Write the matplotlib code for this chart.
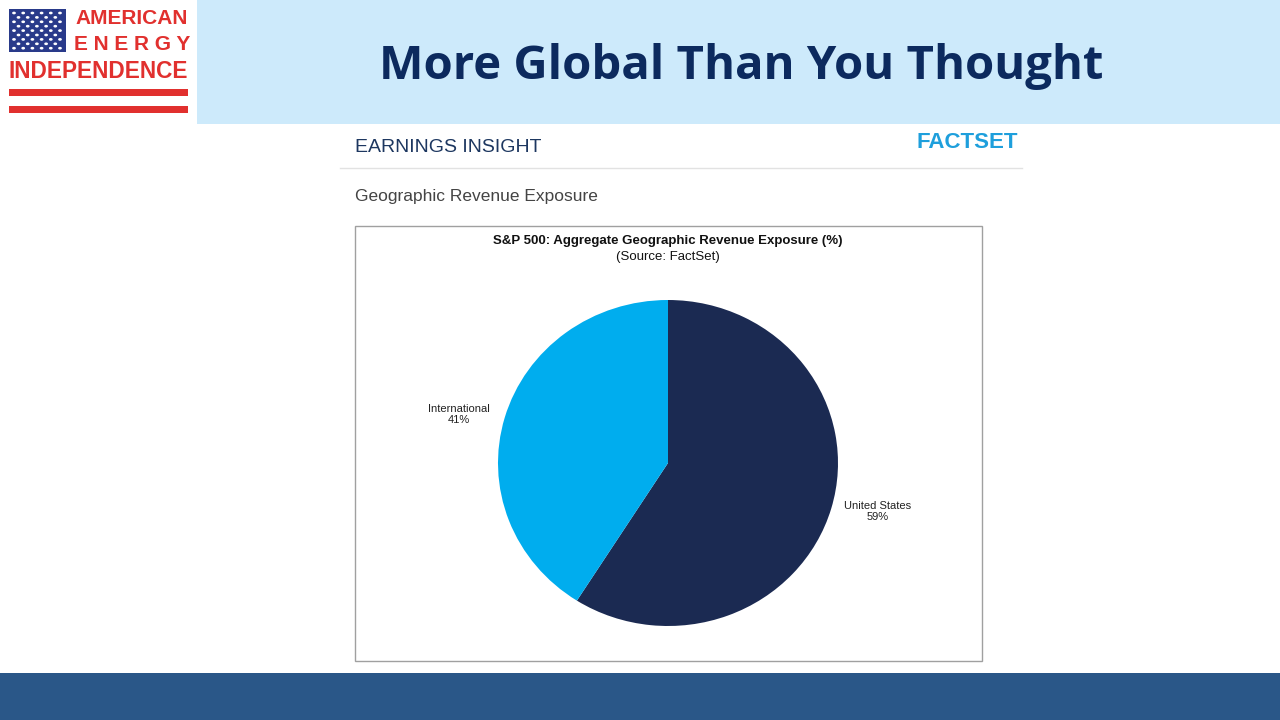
import matplotlib.pyplot as plt
from matplotlib.patches import Rectangle

W, H = 1280, 720

# data
regions = ["United States", "International"]
shares = [59, 41]
slice_colors = ["#1b2a52", "#00adee"]

slide_title = "More Global Than You Thought"
section = "EARNINGS INSIGHT"
subtitle = "Geographic Revenue Exposure"
chart_title = "S&P 500: Aggregate Geographic Revenue Exposure (%)"
chart_source = "(Source: FactSet)"

sans = ["Liberation Sans", "DejaVu Sans"]


def fx(x):
    return x / W


def fy(y):
    return 1 - y / H


def box(x, y, w, h, **kw):
    # rectangle given in pixel coords, top-left origin
    fig.patches.append(Rectangle((fx(x), fy(y + h)), w / W, h / H,
                                 transform=fig.transFigure, **kw))


fig = plt.figure(figsize=(12.8, 7.2), dpi=100)
fig.patch.set_facecolor("white")

# header and footer bands
box(197, 0, W - 197, 124, facecolor="#cdeafb", edgecolor="none")
box(0, 673, W, 47, facecolor="#2a5788", edgecolor="none")
fig.text(fx(741), fy(67), slide_title, ha="center", va="center",
         fontsize=34, fontweight="bold", color="#0c2a5e", family=["Open Sans", "DejaVu Sans"])

# logo
red = "#e1302e"
box(9, 9, 57, 43, facecolor="#293a8a", edgecolor="none")
for r in range(9):
    cols = 6 if r % 2 == 0 else 5
    off = 0 if r % 2 == 0 else 4.5
    for c in range(cols):
        fig.patches.append(plt.Circle((fx(14 + off + c * 9.2), fy(13 + r * 4.4)), 0.0009,
                                      transform=fig.transFigure, color="white"))
fig.text(fx(188), fy(19), "AMERICAN", ha="right", va="center", fontsize=15,
         fontweight="bold", color=red, family=sans)
fig.text(fx(132), fy(45), "E N E R G Y", ha="center", va="center", fontsize=15,
         fontweight="bold", color=red, family=sans)
fig.text(fx(98.5), fy(71), "INDEPENDENCE", ha="center", va="center", fontsize=16.3,
         fontweight="bold", color=red, family=sans)
box(9, 89, 179, 7, facecolor=red, edgecolor="none")
box(9, 106, 179, 7, facecolor=red, edgecolor="none")

# factset page header
fig.text(fx(355), fy(147), section, ha="left", va="center", fontsize=14,
         color="#1d3760", family=sans)
fig.text(fx(1018), fy(143), "FACTSET", ha="right", va="center", fontsize=16,
         fontweight="bold", color="#1e9fdc", family=sans)
fig.lines.append(plt.Line2D([fx(340), fx(1022)], [fy(168), fy(168)],
                            transform=fig.transFigure, color="#e2e2e2", lw=1))
fig.text(fx(355), fy(196), subtitle, ha="left", va="center", fontsize=12.5,
         color="#444444", family=sans)

# chart frame
box(355, 226, 627, 435, facecolor="white", edgecolor="#a0a0a0", lw=1, zorder=0)
fig.text(fx(668), fy(241), chart_title, ha="center", va="center", fontsize=9.5,
         fontweight="bold", color="#111111", family=sans)
fig.text(fx(668), fy(257), chart_source, ha="center", va="center", fontsize=9.5,
         color="#111111", family=sans)

# pie
ax = fig.add_axes([fx(498), fy(626), 340 / W, 326 / H])
ax.set_zorder(5)
labels = [f"{n}\n{v}%" for n, v in zip(regions, shares)]
wedges, texts = ax.pie(shares, labels=labels, colors=slice_colors, startangle=90,
                       counterclock=False, labeldistance=1.27,
                       textprops=dict(fontsize=8, color="#222222", family=sans))
for t in texts:
    t.set_ha("center")
    t.set_va("center")
    x, y = t.get_position()
    t.set_position((x * 1.01, y * 0.84))
ax.set_aspect("auto")
ax.set_xlim(-1, 1)
ax.set_ylim(-1, 1)

fig.savefig("out.png", dpi=100)
